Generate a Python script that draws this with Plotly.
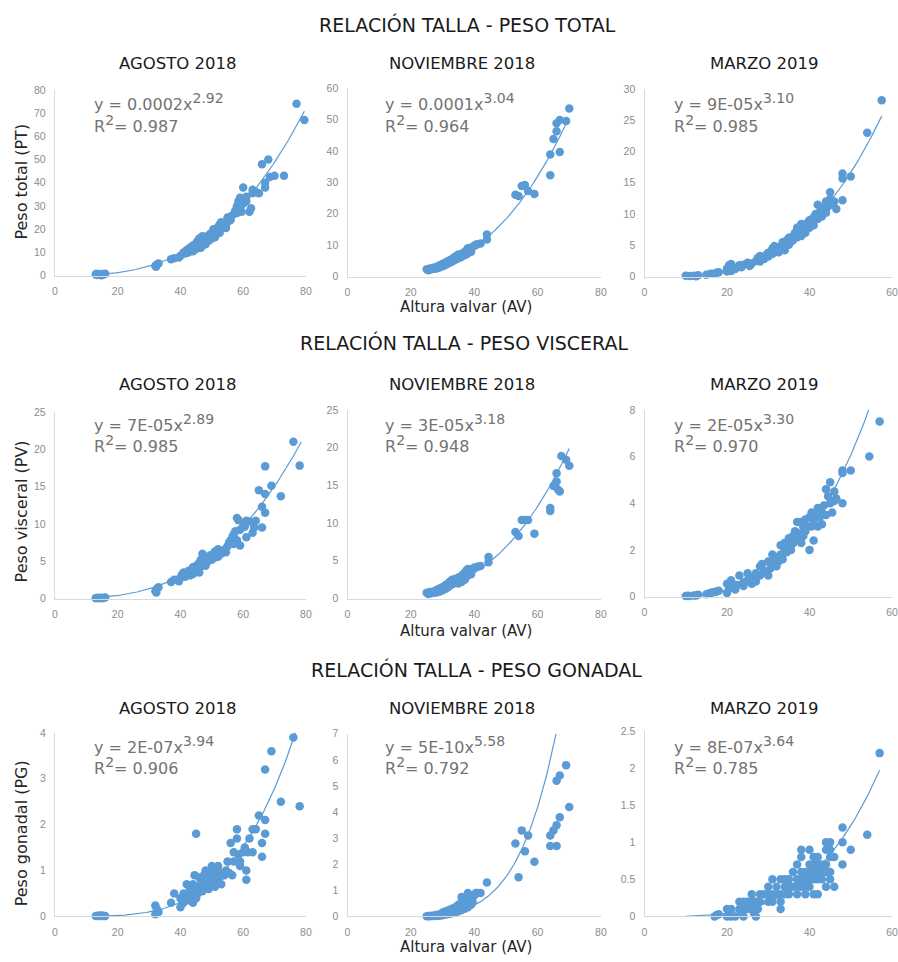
import numpy as np
import plotly.graph_objects as go

W, H = 898, 962
BLUE = "#5B9BD5"

ROW_TITLES = ["RELACIÓN TALLA - PESO TOTAL", "RELACIÓN TALLA - PESO VISCERAL", "RELACIÓN TALLA - PESO GONADAL"]
MONTHS = ["AGOSTO 2018", "NOVIEMBRE 2018", "MARZO 2019"]
Y_TITLES = ["Peso total (PT)", "Peso visceral (PV)", "Peso gonadal (PG)"]
X_TITLE = "Altura valvar (AV)"

# ---------------- data (x = altura valvar, y = peso) ----------------
AGO_PT = [(13,0.5),(13.5,0.3),(14,0.6),(14.5,0.4),(15,0.7),(15.5,0.5),(16,0.8),(13.2,0.8),(14.8,0.2),
          (32,4.2),(32.5,4.8),(33,5.2),(32.2,3.8),(37,7),(38,7.5),(39.5,7.8),(40,8.5),(41,10),(41.5,9.5),
          (42,11),(42.5,10),(43,12),(43.5,11.5),(44,13),(44,10.5),(44.5,12.5),(45,14),(45,11.5),(45.5,15),
          (45.5,12.5),(46,13.5),(46,16),(46.5,14.5),(46.5,12),(47,17),(47,15),(47,13),(47.5,16),(47.5,14),
          (48,15.5),(48,13.5),(48.5,17),(49,16.5),(49,15),(49.5,18),(50,17.5),(50,16),(50.5,19),(50.5,20),
          (51,18.5),(51,16.5),(51.5,20),(52,21),(52,19),(52.5,22),(52.5,18.5),(53,20.5),(53,23),(53.5,21.5),
          (54,22),(54.5,20.5),(55,23),(55,25),(56,24),(56,25.5),(57,26.5),(57.5,28),(58,27),(58,30),
          (58.5,32),(59,33.5),(59,29),(60,38),(59.5,27.5),(60,31),(60.5,33),(61,34),(61,32),(63,37),
          (62,27.5),(62.5,29),(63,35.5),(64,36),(65,35.5),(66,48),(67,40),(67,38),(68,50),(68.5,42.5),
          (70,43),(73,43),(77,74),(79.5,67)]
NOV_PT = [(25,2.3),(25.5,2),(26,2.6),(26.5,2.3),(27,2.8),(27.5,2.5),(28,3),(28,2.6),(28.5,3.3),(29,3.5),
          (29,2.9),(29.5,3.8),(30,4),(30,3.3),(30.5,4.2),(30.5,3.6),(31,4.5),(31,3.8),(31.5,4.8),(31.5,4.1),
          (32,5),(32,4.3),(32.5,5.3),(32.5,4.6),(33,5.6),(33,4.8),(33.5,6),(33.5,5.1),(34,6.3),(34,5.4),
          (34.5,6.6),(34.5,5.6),(35,7),(35,5.9),(35.5,6.8),(35.5,6.1),(36,7.2),(36,6.3),(36.5,7.5),(36.5,6.6),
          (37,7.8),(37,6.9),(37.5,8.3),(37.5,7.1),(38,9),(38,7.4),(38.5,8.5),(39,8.8),(39,7.9),(39.5,9.5),
          (40,9.7),(40.5,10.1),(41,10.3),(42,10.5),(44,13.4),(44,11.8),(53,26),(54,25.6),(55,28.8),(56,29.1),
          (57,27.2),(59,26.3),(64,38.8),(64,32.2),(65,43.8),(66,46.2),(66,48.8),(67,49.8),(67,39.6),(69,49.5),
          (70,53.5)]
MAR_PT = [(10,0.15),(11,0.1),(12,0.15),(12.5,0.05),(13,0.2),(15,0.3),(16,0.45),(17,0.5),(17.5,0.6),(18,0.7),
          (20,0.8),(20,1.3),(20.5,1.8),(21,2),(21,0.9),(22,1.2),(23,1.8),(23.5,1.5),(24,1.9),(25,2.2),
          (25.5,1.7),(26,2.1),(27,2.5),(27.5,3),(28,3.3),(28,2.4),(29,2.8),(29.5,3.5),(30,3.8),(30,3.2),
          (31,4.5),(31,3.6),(31.5,4.9),(32,4.2),(32.5,3.9),(33,4.8),(33,4.3),(33.5,5.5),(34,5),(34,4.2),
          (34.5,5.8),(35,6.2),(35,5.1),(35.5,5.6),(36,6.5),(36,5.8),(36.5,7),(37,6.3),(37,7.8),(37.5,7),
          (38,8.4),(38,6.5),(38.5,7.6),(39,8.2),(39,7),(39.5,8.6),(40,9),(40,7.8),(40.5,8.5),(41,9.5),
          (41,8.2),(41.5,10),(42,9.2),(42,11.5),(42.5,10.3),(43,11),(43,9.6),(43.5,10.6),(44,12),(44,10.2),
          (44.5,11.2),(45,13.5),(45,12.4),(45.5,11.6),(46,12),(46.5,10.8),(48,16.5),(48,15.7),(48,12.2),
          (50,16),(54,23),(57.5,28.2)]
AGO_PV = [(13,0.05),(13.5,0.1),(14,0.05),(14.5,0.1),(15,0.05),(15.5,0.1),(16,0.15),(32,1.0),(32.5,1.3),
          (33,1.5),(32.3,0.8),(37,2.2),(38,2.5),(39.5,2.3),(40,2.8),(40.5,3.2),(41,3.5),(41.5,2.9),(42,3.3),
          (42.5,3.7),(43,3.1),(43.5,3.9),(44,4.2),(44,3.3),(44.5,3.6),(45,4.4),(45,3.8),(45.5,4.1),(46,4.8),
          (46,3.5),(46.5,5.2),(46.5,4.3),(47,6),(47,4.6),(47.5,5),(48,4.4),(48,5.3),(48.5,4.9),(49,5.5),
          (49,5.1),(49.5,5.8),(50,5.6),(50,5.2),(50.5,6),(51,5.5),(51,6.3),(51.5,5.8),(52,6.6),(52,5.6),
          (52.5,6.2),(53,6),(54,6.5),(54.5,6.2),(55,7),(55.5,7.5),(56,7.8),(56.5,8.2),(57,7.3),(57,8.6),
          (57.5,9),(58,10.8),(58,7.8),(58.5,10.5),(59,9.2),(59,7.1),(60,10),(60.5,9.6),(61,10.4),(61,8.2),
          (62,10.3),(63,8.8),(63.5,9.5),(64,10.4),(65,14.5),(66,12.3),(66,9.5),(67,17.7),(67,14),(67,11.5),
          (69,15.1),(72,13.7),(76,21),(78,17.8)]
NOV_PV = [(25,0.75),(25.5,0.6),(26,0.85),(26.5,0.7),(27,0.9),(27.5,0.8),(28,1.1),(28,0.8),(28.5,1.2),(29,1.3),
          (29,0.9),(29.5,1.4),(30,1.5),(30,1.1),(30.5,1.6),(31,1.8),(31,1.3),(31.5,1.9),(31.5,1.5),(32,2.1),
          (32,1.6),(32.5,2.3),(32.5,1.8),(33,2.5),(33,1.9),(33.5,2.4),(33.5,2.0),(34,2.6),(34,2.1),(34.5,2.3),
          (35,2.8),(35,2.0),(35.5,2.5),(36,3.0),(36,2.2),(36.5,3.2),(36.5,2.6),(37,3.4),(37,2.5),(37.5,3.7),
          (37.5,2.9),(38,3.9),(38,3.1),(38.5,3.5),(39,3.8),(39,3.2),(40,4.1),(41,4.2),(42,4.3),(44.5,5.5),
          (44.5,4.8),(53,8.8),(54,8.3),(55,10.4),(56,10.4),(57,10.4),(59,8.6),(64,12),(64,11.6),(65,14.9),
          (65.5,15.1),(66,15.5),(66,16.6),(66.5,14.4),(67,14.2),(67.5,18.9),(69,18.4),(70,17.6)]
MAR_PV = [(10,0.02),(10.5,0.03),(11,0.02),(12,0.04),(12.5,0.05),(13,0.08),(15,0.1),(15.5,0.12),(16,0.15),
          (16.5,0.18),(17,0.2),(17.5,0.22),(18,0.25),(20,0.15),(20,0.55),(20.5,0.35),(21,0.7),(21,0.45),
          (22,0.3),(22.5,0.5),(23,0.9),(24,0.6),(24,0.45),(25,1.0),(25,0.7),(26,0.8),(26,0.55),(27,1.0),
          (27,0.65),(28,1.3),(28,0.9),(28.5,1.4),(29,1.1),(30,0.9),(30,1.5),(30.5,1.2),(31,1.8),(31,1.4),
          (31.5,1.6),(32,1.7),(32,1.3),(32.5,1.5),(33,2.2),(33,1.8),(33.5,1.6),(34,2.0),(34,2.3),(34.5,1.9),
          (35,2.5),(35,2.2),(35.5,2.0),(36,2.6),(36,2.3),(36.5,2.8),(37,3.2),(37,2.5),(37.5,2.7),(38,3.2),
          (38,2.3),(38.5,3.0),(38.5,2.6),(39,2.8),(39,3.3),(39.5,3.0),(40,3.4),(40,2.0),(40.5,3.0),(40.5,3.6),
          (41,2.4),(41,3.2),(41.5,3.5),(42,3.8),(42,3.0),(42.5,3.4),(43,3.6),(43,3.1),(43.5,3.9),(44,4.6),
          (44,3.5),(44.5,4.3),(45,4.9),(45,4.0),(45.5,3.6),(46,4.5),(46,4.1),(46.5,4.2),(48,5.4),(48,5.3),
          (48,4.0),(50,5.4),(54.5,6.0),(57,7.5)]
AGO_PG = [(13,0.01),(13.5,0.01),(14,0.02),(14.5,0.01),(15,0.02),(15.5,0.01),(16,0.01),(32,0.24),(32,0.05),
          (32.5,0.15),(33,0.1),(37,0.3),(38,0.5),(40,0.2),(40,0.4),(40.5,0.35),(41,0.5),(41,0.3),(41.5,0.45),
          (42,0.4),(42,0.7),(42.5,0.5),(43,0.35),(43,0.6),(43.5,0.45),(44,0.3),(44,0.7),(44.5,0.55),(44.5,0.9),
          (45,0.4),(45,0.65),(45,1.8),(45.5,0.5),(46,0.6),(46,0.85),(46.5,0.7),(47,0.8),(47,0.55),(47.5,0.9),
          (48,0.65),(48,1.0),(48.5,0.75),(49,0.85),(49,0.6),(49.5,0.95),(50,0.7),(50,1.1),(50.5,0.8),(51,0.9),
          (51,0.65),(51.5,1.0),(52,0.75),(52,1.1),(52.5,0.85),(53,0.95),(53,0.7),(54,0.9),(54.5,1.0),(55,1.2),
          (55.5,0.95),(56,1.6),(56.5,0.9),(57,1.4),(57,1.2),(58,1.7),(58,1.9),(58.5,1.35),(59,1.1),(59,1.2),
          (60,1.4),(60.5,1.5),(61,1.0),(61,0.8),(61.5,1.4),(62,1.7),(63,1.4),(63,1.9),(64,1.9),(65,2.2),
          (66,1.6),(66,1.3),(67,2.1),(67,1.8),(67,3.2),(69,3.6),(72,2.5),(76,3.9),(78,2.4)]
NOV_PG = [(25,0.01),(25.5,0.02),(26,0.01),(26.5,0.03),(27,0.02),(27.5,0.04),(28,0.02),(28,0.06),(28.5,0.05),
          (29,0.08),(29,0.03),(29.5,0.1),(30,0.05),(30,0.15),(30.5,0.12),(31,0.08),(31,0.2),(31.5,0.15),
          (32,0.1),(32,0.25),(32.5,0.18),(33,0.12),(33,0.3),(33.5,0.22),(34,0.15),(34,0.35),(34.5,0.28),
          (35,0.2),(35,0.45),(35.5,0.35),(36,0.25),(36,0.55),(36,0.75),(36.5,0.4),(37,0.3),(37,0.6),
          (37.5,0.5),(38,0.35),(38,0.9),(38.5,0.65),(39,0.45),(39,0.75),(39.5,0.55),(40,0.8),(40.5,0.9),
          (41,0.9),(42,0.9),(44,1.3),(53,2.8),(54,1.5),(55,3.3),(56,2.5),(57,3.1),(59,2.1),(64,3.1),
          (64,2.7),(65,3.3),(66,3.5),(66,2.7),(66,5.2),(67,5.4),(67,3.8),(69,5.8),(70,4.2)]
MAR_PG = [(17,0.0),(17.5,0.02),(18,0.03),(20,0.1),(20,0.0),(20.5,0.05),(21,0.1),(21,0.0),(22,0.0),(23,0.2),
          (23,0.1),(23.5,0.05),(24,0.2),(24,0.0),(24,0.1),(25,0.2),(25,0.1),(25.5,0.15),(26,0.3),(26,0.2),
          (26,0.1),(26.5,0.05),(27,0.2),(27,0.0),(27,0.1),(27.5,0.1),(28,0.3),(28,0.2),(29,0.3),(30,0.4),
          (30,0.3),(30,0.2),(31,0.5),(31,0.3),(31,0.2),(32,0.3),(32,0.4),(33,0.5),(33,0.2),(33,0.1),
          (33,0.3),(34,0.4),(34,0.5),(34,0.3),(35,0.5),(35,0.4),(35,0.3),(36,0.4),(36,0.6),(37,0.5),
          (37,0.7),(37,0.3),(37,0.4),(38,0.9),(38,0.8),(38,0.6),(38,0.5),(38,0.4),(39,0.6),(39,0.5),
          (39,0.3),(39,0.4),(40,0.9),(40,0.7),(40,0.6),(40,0.5),(40,0.4),(41,0.8),(41,0.7),(41,0.6),
          (41,0.5),(41,0.3),(42,0.8),(42,0.7),(42,0.6),(42,0.5),(42,0.3),(43,0.7),(43,0.6),(43,0.5),
          (44,1.0),(44,0.9),(44,0.7),(44,0.6),(44,0.4),(45,1.0),(45,0.9),(45,0.8),(45,0.6),(45,0.5),
          (46,0.8),(46,0.4),(48,1.2),(48,1.0),(48,0.7),(50,0.9),(54,1.1),(57,2.2)]

PANELS = [AGO_PT, NOV_PT, MAR_PT, AGO_PV, NOV_PV, MAR_PV, AGO_PG, NOV_PG, MAR_PG]

# trendline labels (as printed) and drawn curve coefficients y = a * x^b
EQ_COEF = ["0.0002", "0.0001", "9E-05", "7E-05", "3E-05", "2E-05", "2E-07", "5E-10", "8E-07"]
EQ_EXP = [2.92, 3.04, 3.10, 2.89, 3.18, 3.30, 3.94, 5.58, 3.64]
R2 = [0.987, 0.964, 0.985, 0.985, 0.948, 0.970, 0.906, 0.792, 0.785]
TREND_A = [0.0002, 0.000125, 9e-5, 7e-5, 2.7e-5, 1.5e-5, 1.5e-7, 5e-10, 8e-7]
TREND_X = [(13, 79.5), (25, 69), (10, 57.5), (13, 78.5), (25, 70), (10, 57), (13, 78), (25, 70), (10, 57)]

X_MAX = [80, 80, 60, 80, 80, 60, 80, 80, 60]
X_TICKS = [0, 20, 40, 60, 80]
Y_MAX = [80, 60, 30, 25, 25, 8, 4, 7, 2.5]
Y_DTICK = [10, 10, 5, 5, 5, 2, 1, 1, 0.5]

# ---------------- layout (pixel positions) ----------------
COL_PX = [(52.5, 306), (348, 604), (648, 898)]
PANEL_YPX = [(273, 85), (274, 83), (274, 84), (600, 411), (600, 409), (598, 409),
             (922, 736), (922, 737), (922, 734)]
ROW_TITLE_Y = [19, 341, 672]
ROW_TITLE_X = [469, 466, 478]
MONTH_Y = [58, 383, 711]
MONTH_X = [177, 464, 769]
YTITLE_Y = [178, 512, 838]
XTITLE_Y = [305, 633, 953]
EQ_X = [90, 384, 676]
EQ_Y = [97, 422, 748]


def fx(p):
    return p / W


def fy(p):
    return 1 - p / H


fig = go.Figure()
layout = {}
TICKFONT = dict(family="Liberation Sans, Arial", size=10.5, color="#8c8c8c")

for i, pts in enumerate(PANELS):
    r, c = divmod(i, 3)
    n = "" if i == 0 else str(i + 1)
    xa, ya = "x" + n, "y" + n
    xs = [p[0] for p in pts]
    ys = [p[1] for p in pts]
    fig.add_trace(go.Scatter(x=xs, y=ys, mode="markers", xaxis=xa, yaxis=ya,
                             marker=dict(size=8.5, color=BLUE), cliponaxis=False,
                             showlegend=False, hoverinfo="x+y"))
    x0, x1 = TREND_X[i]
    tx = np.linspace(x0, x1, 200)
    ty = TREND_A[i] * tx ** EQ_EXP[i]
    fig.add_trace(go.Scatter(x=tx, y=ty, mode="lines", xaxis=xa, yaxis=ya,
                             line=dict(color=BLUE, width=1.2), showlegend=False,
                             hoverinfo="skip"))
    yb, yt = PANEL_YPX[i]
    layout["xaxis" + n] = dict(domain=[fx(COL_PX[c][0]), min(1.0, fx(COL_PX[c][1]))],
                               anchor=ya, range=[0, X_MAX[i]],
                               tickvals=[t for t in X_TICKS if t <= X_MAX[i]],
                               showline=True, linecolor="#d9d9d9", linewidth=1.3,
                               showgrid=False, zeroline=False, ticks="",
                               tickfont=TICKFONT, ticklabelstandoff=6, fixedrange=True)
    layout["yaxis" + n] = dict(domain=[fy(yb), fy(yt)], anchor=xa, range=[0, Y_MAX[i]],
                               dtick=Y_DTICK[i], tick0=0,
                               showline=True, linecolor="#d9d9d9", linewidth=1.3,
                               showgrid=False, zeroline=False, ticks="",
                               tickfont=TICKFONT, ticklabelstandoff=6, fixedrange=True)

SUP = "<sup><span style='font-size:14px'>%s</span></sup>"
ann = []
for r in range(3):
    ann.append(dict(x=fx(ROW_TITLE_X[r]), y=fy(ROW_TITLE_Y[r]), text=ROW_TITLES[r],
                    font=dict(family="DejaVu Sans", size=19, color="#1a1a1a")))
    for c in range(3):
        ann.append(dict(x=fx(MONTH_X[c]), y=fy(MONTH_Y[r]), text=MONTHS[c],
                        font=dict(family="DejaVu Sans", size=16.5, color="#1a1a1a")))
        i = r * 3 + c
        ann.append(dict(x=fx(EQ_X[c]), y=fy(EQ_Y[r]), xanchor="left", align="left",
                        text=("y = %sx" % EQ_COEF[i]) + SUP % ("%.2f" % EQ_EXP[i]),
                        font=dict(family="DejaVu Sans", size=16, color="#737373")))
        ann.append(dict(x=fx(EQ_X[c]), y=fy(EQ_Y[r] + 22), xanchor="left", align="left",
                        text="R" + SUP % "2" + ("= %.3f" % R2[i]),
                        font=dict(family="DejaVu Sans", size=16, color="#737373")))
    ann.append(dict(x=fx(19), y=fy(YTITLE_Y[r]), text=Y_TITLES[r], textangle=-90,
                    font=dict(family="DejaVu Sans", size=16, color="#262626")))
    ann.append(dict(x=fx(468), y=fy(XTITLE_Y[r]), text=X_TITLE,
                    font=dict(family="DejaVu Sans", size=15, color="#262626")))

for a in ann:
    a.update(xref="paper", yref="paper", showarrow=False)
    a.setdefault("xanchor", "center")
    a.setdefault("yanchor", "middle")

fig.update_layout(autosize=True, margin=dict(l=0, r=0, t=0, b=0),
                  paper_bgcolor="white", plot_bgcolor="white",
                  annotations=ann, showlegend=False, **layout)

fig.write_html("out.html", default_width="100vw", default_height="100vh",
               config={"displayModeBar": False, "responsive": True},
               post_script="document.body.style.margin='0';document.body.style.overflow='hidden';"
                           "document.documentElement.style.overflow='hidden';")
